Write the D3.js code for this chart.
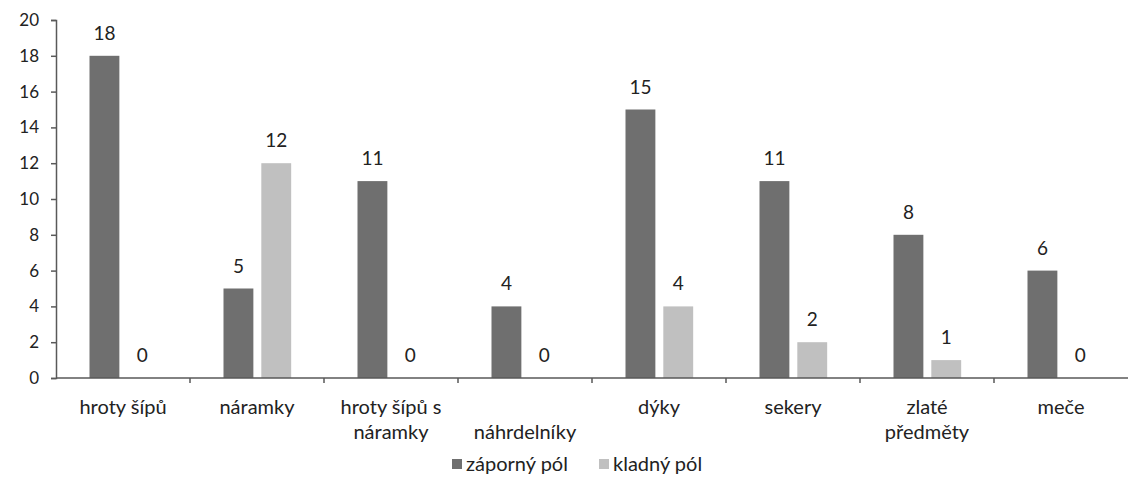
<!DOCTYPE html>
<html lang="cs">
<head>
<meta charset="UTF-8">
<title>Chart</title>
<script src="https://d3js.org/d3.v7.min.js"></script>
<style>
  body { margin: 0; background: #fff; }
  text { font-family: Lato, "Open Sans", sans-serif; fill: #222; }
</style>
</head>
<body>
<script>
// categories (tick labels split into lines as in the picture)
var categories = ['hroty šípů', 'náramky', 'hroty šípů s náramky', 'náhrdelníky', 'dýky', 'sekery', 'zlaté předměty', 'meče'];
var categoryLines = [['hroty šípů'], ['náramky'], ['hroty šípů s', 'náramky'], ['', 'náhrdelníky'], ['dýky'], ['sekery'], ['zlaté', 'předměty'], ['meče']];
var seriesNames = ['záporný pól', 'kladný pól'];
var zaporny = [18, 5, 11, 4, 15, 11, 8, 6];
var kladny = [0, 12, 0, 0, 4, 2, 1, 0];
var yTicks = [0, 2, 4, 6, 8, 10, 12, 14, 16, 18, 20];
var colors = ['#6f6f6f', '#c0c0c0'];

var width = 1136, height = 486;
var margin = {top: 20, right: 8, bottom: 108, left: 56};

var svg = d3.select('body').append('svg').attr('width', width).attr('height', height);

var x0 = d3.scaleBand().domain(categories).range([margin.left, width - margin.right]).padding(0);
var bw = x0.bandwidth();
var x1 = d3.scaleBand().domain(seriesNames).range([bw * 0.25, bw * 0.755]).paddingInner(0.21);
var y = d3.scaleLinear().domain([0, 20]).range([height - margin.bottom, margin.top]);

// y axis
var yAxis = svg.append('g')
    .attr('transform', 'translate(' + margin.left + ',0)')
    .call(d3.axisLeft(y).tickValues(yTicks).tickSize(5).tickPadding(8));
yAxis.select('.domain').attr('stroke', '#595959').attr('stroke-width', 1.5);
yAxis.selectAll('.tick line').attr('stroke', '#595959').attr('stroke-width', 1.5);
yAxis.selectAll('.tick text').attr('font-size', 17).attr('fill', '#222').attr('dx', '-4');

// bars
var groups = svg.append('g').selectAll('g')
    .data(categories)
    .join('g')
    .attr('transform', d => 'translate(' + x0(d) + ',0)');

var rows = (d, i) => [
    {key: seriesNames[0], value: zaporny[i], c: colors[0]},
    {key: seriesNames[1], value: kladny[i], c: colors[1]}
];

groups.selectAll('rect')
    .data(rows)
    .join('rect')
    .attr('x', d => x1(d.key))
    .attr('y', d => y(d.value))
    .attr('width', x1.bandwidth())
    .attr('height', d => y(0) - y(d.value))
    .attr('fill', d => d.c);

groups.selectAll('text.val')
    .data(rows)
    .join('text')
    .attr('class', 'val')
    .attr('x', d => x1(d.key) + x1.bandwidth() / 2)
    .attr('y', d => y(d.value) - 16)
    .attr('text-anchor', 'middle')
    .attr('font-size', 19)
    .text(d => d.value);

// x axis line + boundary ticks
var xAxis = svg.append('g');
xAxis.append('line')
    .attr('x1', margin.left).attr('x2', width - margin.right)
    .attr('y1', y(0)).attr('y2', y(0))
    .attr('stroke', '#595959').attr('stroke-width', 1.5);
xAxis.selectAll('line.t')
    .data(categories.slice(1))
    .join('line')
    .attr('class', 't')
    .attr('x1', d => x0(d)).attr('x2', d => x0(d))
    .attr('y1', y(0)).attr('y2', y(0) + 5)
    .attr('stroke', '#595959').attr('stroke-width', 1.5);

xAxis.selectAll('text')
    .data(categories)
    .join('text')
    .attr('text-anchor', 'middle')
    .attr('font-size', 20)
    .attr('x', d => x0(d) + bw / 2)
    .attr('y', y(0) + 36)
    .each(function(d, i) {
        var t = d3.select(this);
        categoryLines[i].forEach(function(line, j) {
            t.append('tspan').attr('x', x0(d) + bw / 2).attr('dy', j === 0 ? 0 : 25).text(line);
        });
    });

// legend
var legend = svg.append('g').attr('transform', 'translate(452,' + (height - 21) + ')');
var lx = [0, 147];
seriesNames.forEach(function(s, i) {
    var g = legend.append('g').attr('transform', 'translate(' + lx[i] + ',0)');
    g.append('rect').attr('x', 0).attr('y', -6).attr('width', 10).attr('height', 10).attr('fill', colors[i]);
    g.append('text').attr('x', 14).attr('y', 6).attr('font-size', 20).text(s);
});
</script>
</body>
</html>
